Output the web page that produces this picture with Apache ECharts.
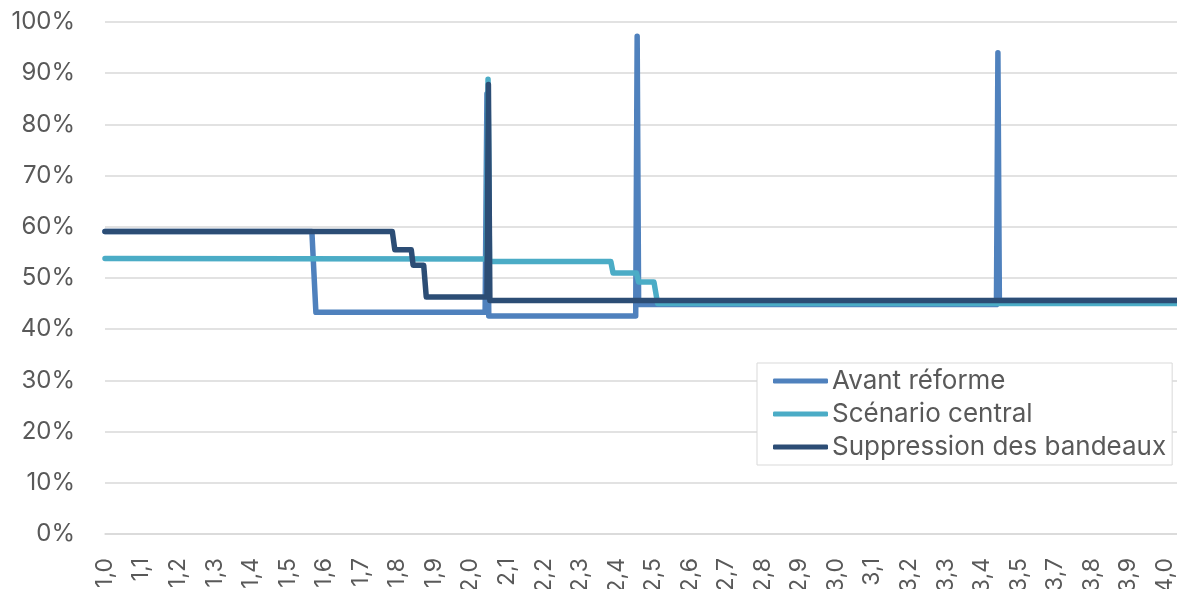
<!DOCTYPE html>
<html>
<head>
<meta charset="utf-8">
<script src="https://cdn.jsdelivr.net/npm/echarts@6/dist/echarts.min.js"></script>
<style>
html,body{margin:0;padding:0;background:#fff;}
#chart{width:1177px;height:589px;}
</style>
</head>
<body>
<div id="chart"></div>
<script>
// Tick labels of the category axis (as printed; note 3,6 is absent in the source)
var tickLabels = ['1,0','1,1','1,2','1,3','1,4','1,5','1,6','1,7','1,8','1,9',
  '2,0','2,1','2,2','2,3','2,4','2,5','2,6','2,7','2,8','2,9',
  '3,0','3,1','3,2','3,3','3,4','3,5','3,7','3,8','3,9','4,0'];

var seriesNames = ['Avant réforme', 'Scénario central', 'Suppression des bandeaux'];

// Positions along the axis expressed in tick-label units (0 = "1,0", 29 = "4,0"), values in %
var avantReforme = [
  [0, 59.1], [5.66, 59.1], [5.77, 43.3], [10.40, 43.3], [10.45, 86.0], [10.50, 42.6],
  [14.52, 42.6], [14.56, 97.2], [14.60, 44.8], [24.39, 44.8], [24.43, 94.0],
  [24.47, 45.6], [29.33, 45.6]
];
var scenarioCentral = [
  [0, 53.8], [10.44, 53.7], [10.48, 88.8], [10.52, 53.2], [13.84, 53.2], [13.90, 51.0],
  [14.54, 51.0], [14.60, 49.2], [15.02, 49.2], [15.12, 45.0], [29.33, 45.0]
];
var suppressionBandeaux = [
  [0, 59.1], [7.86, 59.1], [7.93, 55.5], [8.38, 55.5], [8.43, 52.5], [8.72, 52.5],
  [8.79, 46.3], [10.45, 46.3], [10.49, 87.8], [10.53, 45.6], [29.33, 45.6]
];

var colors = ['#4f81bd', '#4bacc6', '#2c4d75'];
var font = 'Inter, "Open Sans", sans-serif';

var chart = echarts.init(document.getElementById('chart'));
var mk = function (name, data, color) {
  return {
    name: name, type: 'line', data: data, showSymbol: false, symbol: 'none',
    color: color,
    lineStyle: { width: 5.5, color: color, cap: 'round', join: 'round' },
    emphasis: { disabled: true }
  };
};
chart.setOption({
  animation: false,
  backgroundColor: '#ffffff',
  grid: { left: 105, right: 0, top: 22, bottom: 55, containLabel: false, outerBoundsMode: 'none' },
  legend: {
    orient: 'vertical', left: 757, top: 363,
    padding: [3, 6, 3, 16],
    backgroundColor: '#ffffff', borderColor: '#d9d9d9', borderWidth: 1,
    itemWidth: 55, itemHeight: 5, itemGap: 3,
    icon: 'roundRect',
    textStyle: { fontSize: 26, color: '#595959', fontFamily: font, lineHeight: 30, padding: [0, 0, 0, -1] },
    data: seriesNames
  },
  xAxis: {
    type: 'value', min: 0, max: 29.33, interval: 1,
    axisLine: { show: true, lineStyle: { color: '#d9d9d9', width: 1.5 } },
    axisTick: { show: false },
    splitLine: { show: false },
    axisLabel: {
      rotate: 90, margin: 24, fontSize: 23, color: '#595959', fontFamily: font,
      padding: [6, 0, 0, 0],
      formatter: function (v) {
        var i = Math.round(v);
        if (Math.abs(v - i) > 1e-6 || i < 0 || i >= tickLabels.length) return '';
        return tickLabels[i];
      }
    }
  },
  yAxis: {
    type: 'value', min: 0, max: 100, interval: 10,
    axisLine: { show: false }, axisTick: { show: false },
    splitLine: { lineStyle: { color: '#d9d9d9', width: 1.5 } },
    axisLabel: { formatter: '{value}%', fontSize: 24, color: '#595959', fontFamily: font, margin: 30, padding: [7, 0, 0, 0] }
  },
  series: [
    mk(seriesNames[0], avantReforme, colors[0]),
    mk(seriesNames[1], scenarioCentral, colors[1]),
    mk(seriesNames[2], suppressionBandeaux, colors[2])
  ]
});
</script>
</body>
</html>
